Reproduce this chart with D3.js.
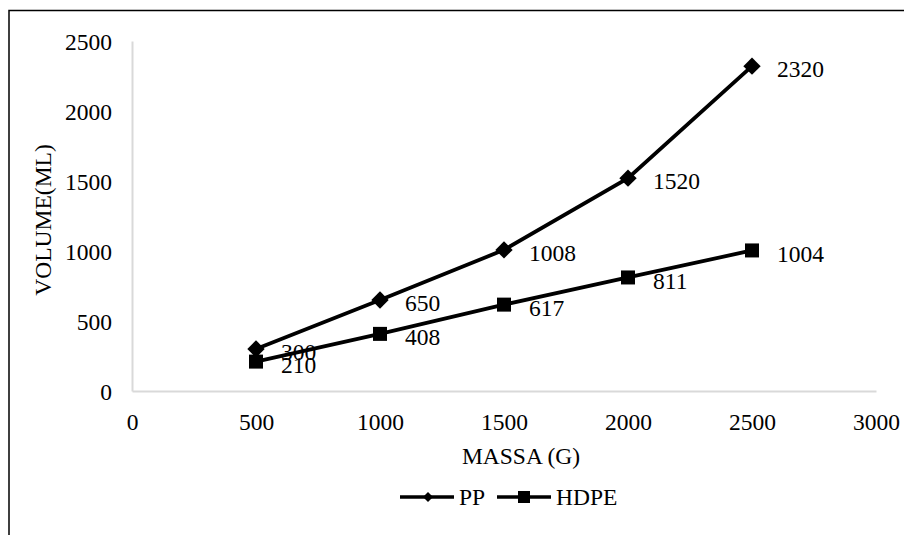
<!DOCTYPE html>
<html>
<head>
<meta charset="utf-8">
<script src="https://cdn.jsdelivr.net/npm/d3@7"></script>
<style>
	body { margin:0; background:#fff; }
	svg text { font-family:"Liberation Serif", "Times New Roman", serif; fill:#000; }
</style>
</head>
<body>
<div id="chart"></div>
<script>

//data
const massa = [500, 1000, 1500, 2000, 2500];
const pp = [300, 650, 1008, 1520, 2320];
const hdpe = [210, 408, 617, 811, 1004];
const xTicks = [0, 500, 1000, 1500, 2000, 2500, 3000];
const yTicks = [0, 500, 1000, 1500, 2000, 2500];
const seriesNames = ["PP", "HDPE"];

//sizing
let width = 904;
let height = 535;
let margin = {top:41, right:28, bottom:144, left:132};
let fontSize = 23.5;

let format = d3.format("d");

//initiate svg
let svg = d3.select("#chart")
	.append("svg")
	.attr("width", width)
	.attr("height", height);

//outer border (goes off the picture on the right and bottom)
svg.append("rect")
	.attr("x", 9)
	.attr("y", 10.5)
	.attr("width", width + 20)
	.attr("height", height + 20)
	.attr("fill", "none")
	.attr("stroke", "#000")
	.attr("stroke-width", 1.5);

//scales
const xScale = d3.scaleLinear()
	.domain([0, 3000])
	.range([margin.left, width - margin.right]);

const yScale = d3.scaleLinear()
	.domain([0, 2500])
	.range([height - margin.bottom, margin.top]);

//axes
const xAxis = d3.axisBottom(xScale)
	.tickValues(xTicks)
	.tickFormat(format)
	.tickSize(0);

const yAxis = d3.axisLeft(yScale)
	.tickValues(yTicks)
	.tickFormat(format)
	.tickSize(0)
	.tickPadding(20);

svg.append("g")
	.attr("class", "x_axis")
	.attr("transform", `translate(0,${yScale(0)})`)
	.call(xAxis);

svg.append("g")
	.attr("class", "y_axis")
	.attr("transform", `translate(${margin.left},0)`)
	.call(yAxis);

svg.selectAll(".x_axis .domain, .y_axis .domain")
	.attr("stroke", "#d9d9d9")
	.attr("stroke-width", 2);

svg.selectAll(".x_axis text, .y_axis text")
	.style("font-family", "Liberation Serif")
	.style("font-size", fontSize + "px")
	.attr("fill", "#000");

svg.selectAll(".x_axis text").attr("dy", "0.35em").attr("y", 31);
svg.selectAll(".y_axis text").attr("dy", "0.35em");

//axis titles
svg.append("text")
	.attr("x", 521)
	.attr("y", 456)
	.attr("dy", "0.35em")
	.attr("text-anchor", "middle")
	.style("font-size", fontSize + "px")
	.text("MASSA (G)");

svg.append("text")
	.attr("transform", "translate(43,220) rotate(-90)")
	.attr("dy", "0.35em")
	.attr("text-anchor", "middle")
	.style("font-size", fontSize + "px")
	.text("VOLUME(ML)");

//lines
const ppData = massa.map((m, i) => ({x:m, y:pp[i]}));
const hdpeData = massa.map((m, i) => ({x:m, y:hdpe[i]}));

let line = d3.line()
	.x((d) => xScale(d.x))
	.y((d) => yScale(d.y));

svg.append("path")
	.datum(ppData)
	.attr("fill", "none")
	.attr("stroke", "#000")
	.attr("stroke-width", 3.8)
	.attr("d", line);

svg.append("path")
	.datum(hdpeData)
	.attr("fill", "none")
	.attr("stroke", "#000")
	.attr("stroke-width", 3.8)
	.attr("d", line);

//markers
svg.selectAll(".pp-mark")
	.data(ppData)
	.enter()
	.append("path")
	.attr("class", "pp-mark")
	.attr("transform", (d) => `translate(${xScale(d.x)},${yScale(d.y)}) rotate(45)`)
	.attr("d", d3.symbol().type(d3.symbolSquare).size(150));

svg.selectAll(".hdpe-mark")
	.data(hdpeData)
	.enter()
	.append("rect")
	.attr("class", "hdpe-mark")
	.attr("x", (d) => xScale(d.x) - 7)
	.attr("y", (d) => yScale(d.y) - 7)
	.attr("width", 14)
	.attr("height", 14)
	.attr("fill", "#000");

//value labels
svg.selectAll(".pp-label")
	.data(ppData)
	.enter()
	.append("text")
	.attr("class", "pp-label")
	.attr("x", (d) => xScale(d.x) + 25)
	.attr("y", (d) => yScale(d.y) + 3)
	.attr("dy", "0.35em")
	.style("font-size", fontSize + "px")
	.text((d) => d.y);

svg.selectAll(".hdpe-label")
	.data(hdpeData)
	.enter()
	.append("text")
	.attr("class", "hdpe-label")
	.attr("x", (d) => xScale(d.x) + 25)
	.attr("y", (d) => yScale(d.y) + 3)
	.attr("dy", "0.35em")
	.style("font-size", fontSize + "px")
	.text((d) => d.y);

//legend
const legendX = [400, 497];
let legend = svg.selectAll(".legend")
	.data(seriesNames)
	.enter()
	.append("g")
	.attr("class", "legend")
	.attr("transform", (d, i) => `translate(${legendX[i]},497)`);

legend.append("line")
	.attr("x1", 0)
	.attr("x2", 54)
	.attr("stroke", "#000")
	.attr("stroke-width", 3.5);

legend.filter((d, i) => i === 0)
	.append("path")
	.attr("transform", "translate(28,0) rotate(45)")
	.attr("d", d3.symbol().type(d3.symbolSquare).size(50));

legend.filter((d, i) => i === 1)
	.append("rect")
	.attr("x", 21)
	.attr("y", -6)
	.attr("width", 12)
	.attr("height", 12)
	.attr("fill", "#000");

legend.append("text")
	.attr("x", 59)
	.attr("dy", "0.35em")
	.style("font-size", fontSize + "px")
	.text((d) => d);

</script>
</body>
</html>
